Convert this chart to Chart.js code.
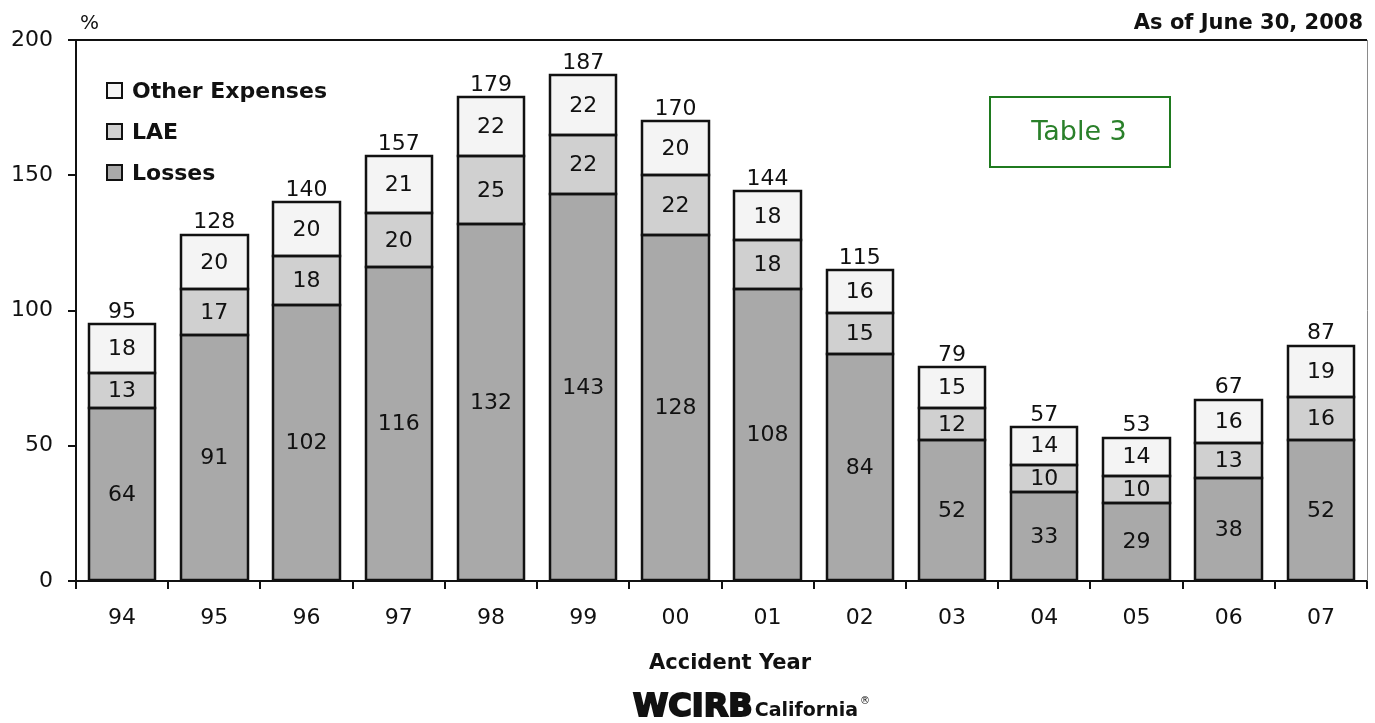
<!DOCTYPE html>
<html>
<head>
<meta charset="utf-8">
<script src="https://cdn.jsdelivr.net/npm/chart.js@4"></script>
<style>
  html, body { margin: 0; padding: 0; background: #fff; }
  #wrap { width: 1375px; height: 723px; position: relative; }
</style>
</head>
<body>
<div id="wrap"><canvas id="lossChart"></canvas></div>
<script>
const years = ['94', '95', '96', '97', '98', '99', '00', '01', '02', '03', '04', '05', '06', '07'];
const losses = [64, 91, 102, 116, 132, 143, 128, 108, 84, 52, 33, 29, 38, 52];
const lae = [13, 17, 18, 20, 25, 22, 22, 18, 15, 12, 10, 10, 13, 16];
const otherExpenses = [18, 20, 20, 21, 22, 22, 20, 18, 16, 15, 14, 14, 16, 19];
const totals = [95, 128, 140, 157, 179, 187, 170, 144, 115, 79, 57, 53, 67, 87];
const yTicks = [0, 50, 100, 150, 200];

const ink = '#111';
const face = '"DejaVu Sans", Verdana, sans-serif';
const fillColors = ['#a9a9a9', '#d0d0d0', '#f4f4f4'];
const legendNames = ['Other Expenses', 'LAE', 'Losses'];

// outlines, labels inside each segment + totals on top
const labelPlugin = {
    id: 'segmentLabels',
    afterDatasetsDraw(chart) {
        const ctx = chart.ctx;
        ctx.save();
        ctx.strokeStyle = ink;
        ctx.lineWidth = 2.5;
        chart.data.datasets.forEach((ds, i) => {
            chart.getDatasetMeta(i).data.forEach(bar => {
                const l = Math.round(bar.x - bar.width / 2);
                const r = Math.round(bar.x + bar.width / 2);
                const t = Math.round(bar.y);
                const b = Math.round(bar.base);
                ctx.strokeRect(l, t, r - l, b - t);
            });
        });

        ctx.fillStyle = ink;
        ctx.font = '22px ' + face;
        ctx.textAlign = 'center';
        ctx.textBaseline = 'middle';
        chart.data.datasets.forEach((ds, i) => {
            chart.getDatasetMeta(i).data.forEach((bar, j) => {
                ctx.fillText(String(ds.data[j]), bar.x, (bar.y + bar.base) / 2 + 1);
            });
        });
        const top = chart.getDatasetMeta(2).data;
        ctx.textBaseline = 'bottom';
        top.forEach((bar, j) => {
            ctx.fillText(String(totals[j]), bar.x, bar.y - 1);
        });
        ctx.restore();
    }
};

const decorPlugin = {
    id: 'decor',
    afterDraw(chart) {
        const ctx = chart.ctx;
        const a = chart.chartArea;
        ctx.save();

        // frame: top line and thin right edge
        ctx.strokeStyle = ink;
        ctx.lineWidth = 2;
        ctx.beginPath();
        ctx.moveTo(a.left - 8, a.top);
        ctx.lineTo(a.right, a.top);
        ctx.stroke();
        ctx.strokeStyle = '#8a8a8a';
        ctx.lineWidth = 1;
        ctx.beginPath();
        ctx.moveTo(a.right + 0.5, a.top);
        ctx.lineTo(a.right + 0.5, a.bottom);
        ctx.stroke();

        ctx.fillStyle = ink;
        ctx.font = '20px ' + face;
        ctx.textBaseline = 'alphabetic';
        ctx.textAlign = 'left';
        ctx.fillText('%', 80, 29);

        ctx.font = 'bold 21px ' + face;
        ctx.textAlign = 'right';
        ctx.fillText('As of June 30, 2008', 1363, 29);

        // legend
        ctx.textAlign = 'left';
        ctx.textBaseline = 'middle';
        ctx.font = 'bold 22px ' + face;
        legendNames.forEach((name, k) => {
            const cy = 91 + k * 41;
            ctx.fillStyle = fillColors[2 - k];
            ctx.fillRect(107, cy - 8, 15, 15);
            ctx.strokeStyle = ink;
            ctx.lineWidth = 2;
            ctx.strokeRect(107, cy - 8, 15, 15);
            ctx.fillStyle = ink;
            ctx.fillText(name, 132, cy + 1);
        });

        // Table 3 box
        ctx.strokeStyle = '#1f7a1f';
        ctx.lineWidth = 2;
        ctx.strokeRect(990, 97, 180, 70);
        ctx.fillStyle = '#2a802a';
        ctx.font = '27px ' + face;
        ctx.textAlign = 'center';
        ctx.fillText('Table 3', 1079, 133);

        // axis title
        ctx.fillStyle = ink;
        ctx.font = 'bold 21px ' + face;
        ctx.fillText('Accident Year', 730, 664);

        // logo
        ctx.textAlign = 'left';
        ctx.textBaseline = 'alphabetic';
        ctx.font = 'bold 32px ' + face;
        ctx.lineWidth = 2;
        ctx.strokeStyle = ink;
        ctx.strokeText('WCIRB', 633, 716);
        ctx.fillText('WCIRB', 633, 716);
        const w = ctx.measureText('WCIRB').width;
        ctx.font = 'bold 19px ' + face;
        ctx.fillText('California', 633 + w + 2, 716);
        const w2 = ctx.measureText('California').width;
        ctx.font = '10px ' + face;
        ctx.fillText('®', 633 + w + w2 + 4, 704);
        ctx.restore();
    }
};

const lossCtx = document.getElementById('lossChart');

new Chart(lossCtx, {
    type: 'bar',
    data: {
        labels: years,
        datasets: [
            { label: 'Losses', data: losses, backgroundColor: fillColors[0] },
            { label: 'LAE', data: lae, backgroundColor: fillColors[1] },
            { label: 'Other Expenses', data: otherExpenses, backgroundColor: fillColors[2] }
        ].map(ds => Object.assign(ds, {
            borderWidth: 0,
            barPercentage: 0.72,
            categoryPercentage: 1
        }))
    },
    options: {
        responsive: true,
        maintainAspectRatio: false,
        animation: false,
        layout: { padding: { top: 40, right: 8, left: 0, bottom: 0 } },
        plugins: {
            legend: { display: false },
            tooltip: { enabled: false }
        },
        scales: {
            x: {
                stacked: true,
                afterFit(scale) { scale.height = 142; },
                grid: {
                    offset: true,
                    drawOnChartArea: false,
                    tickLength: 8,
                    color: ink,
                    lineWidth: 2
                },
                border: { color: ink, width: 2 },
                ticks: {
                    color: ink,
                    padding: 16,
                    font: { family: face, size: 22 }
                }
            },
            y: {
                stacked: true,
                min: 0,
                max: 200,
                afterFit(scale) { scale.width = 76; },
                afterBuildTicks(scale) { scale.ticks = yTicks.map(v => ({ value: v })); },
                grid: {
                    drawOnChartArea: false,
                    tickLength: 8,
                    color: ink,
                    lineWidth: 2
                },
                border: { color: ink, width: 2 },
                ticks: {
                    color: ink,
                    padding: 15,
                    font: { family: face, size: 22 }
                }
            }
        }
    },
    plugins: [labelPlugin, decorPlugin]
});
</script>
</body>
</html>
